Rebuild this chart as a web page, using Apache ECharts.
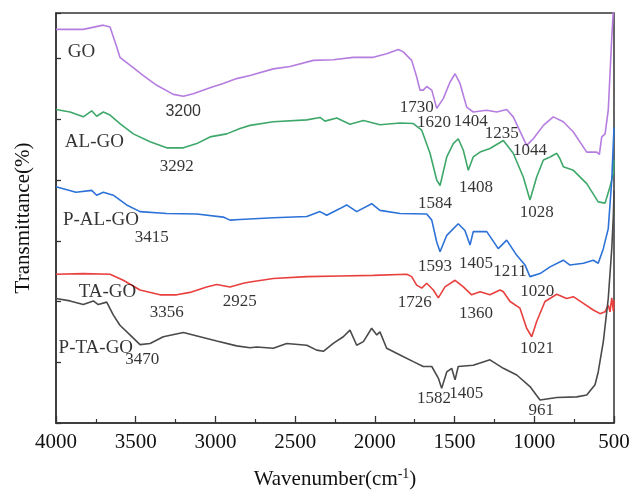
<!DOCTYPE html>
<html>
<head>
<meta charset="utf-8">
<script src="https://cdn.jsdelivr.net/npm/echarts@6/dist/echarts.min.js"></script>
<style>
html,body{margin:0;padding:0;background:#fff;}
#chart{width:633px;height:497px;}
</style>
</head>
<body>
<div id="chart"></div>
<script>
// Wavenumber (cm-1) and transmittance (offset, arbitrary units)
const goX = [4000,3829,3703,3661,3619,3599,3536,3452,3368,3264,3201,3139,3034,2951,2867,2783,2637,2532,2386,2261,2135,2010,1926,1853,1822,1769,1738,1717,1696,1675,1643,1612,1571,1529,1497,1466,1424,1383,1298,1236,1173,1132,1048,1006,943,881,818,755,671,608,592,577,556,536,514,504,500];
const goY = [6.48,6.48,6.55,6.52,6.19,6.02,5.89,5.72,5.56,5.41,5.38,5.42,5.52,5.59,5.67,5.72,5.83,5.87,5.97,5.98,6.02,6.02,6.08,6.15,6.11,5.97,5.70,5.48,5.48,5.54,5.48,5.18,5.34,5.61,5.75,5.59,5.20,5.12,5.15,5.12,5.16,5.04,4.57,4.68,4.90,5.04,4.96,4.79,4.46,4.46,4.42,4.71,4.76,5.15,6.35,6.80,6.90];

const alX = [4000,3912,3829,3776,3745,3703,3661,3599,3515,3410,3306,3201,3117,3034,2929,2846,2783,2637,2427,2344,2313,2239,2156,2072,1968,1842,1759,1706,1654,1612,1591,1549,1508,1477,1445,1414,1383,1340,1278,1194,1132,1069,1027,985,943,901,859,839,818,755,671,599,556,525,504,500];
const alY = [5.16,5.12,5.04,5.14,5.05,5.12,5.07,4.93,4.76,4.63,4.53,4.53,4.60,4.71,4.76,4.85,4.90,4.96,4.99,5.03,4.97,5.02,4.92,4.98,4.91,4.94,4.93,4.82,4.44,4.00,3.91,4.38,4.60,4.68,4.49,4.16,4.38,4.46,4.52,4.65,4.44,4.05,3.67,4.05,4.33,4.38,4.44,4.35,4.22,4.16,3.94,3.64,3.62,3.89,4.11,4.33];

const palX = [4000,3875,3776,3745,3703,3641,3557,3473,3306,3117,2951,2909,2846,2637,2427,2344,2302,2219,2177,2114,2020,1968,1842,1675,1643,1612,1591,1549,1477,1435,1403,1383,1298,1226,1173,1110,1058,1027,964,901,818,776,692,630,599,567,536,514,500];
const palY = [3.89,3.80,3.83,3.75,3.80,3.75,3.59,3.48,3.45,3.44,3.39,3.34,3.35,3.38,3.40,3.48,3.42,3.53,3.59,3.48,3.61,3.50,3.45,3.44,3.34,2.98,2.82,3.09,3.28,3.17,2.93,3.15,3.15,2.87,3.01,2.76,2.60,2.41,2.46,2.57,2.68,2.60,2.63,2.68,2.63,2.87,3.20,4.00,4.87];

const taX = [4000,3829,3661,3578,3473,3348,3243,3160,3055,2992,2909,2825,2783,2637,2427,2219,2010,1800,1769,1738,1706,1675,1633,1602,1560,1497,1445,1393,1340,1278,1215,1194,1152,1090,1048,1016,985,933,859,797,755,692,630,588,556,536,525,514,504,500];
const taY = [2.45,2.46,2.45,2.35,2.19,2.11,2.11,2.15,2.24,2.28,2.24,2.30,2.32,2.38,2.41,2.42,2.43,2.45,2.41,2.27,2.22,2.30,2.19,2.06,2.24,2.35,2.24,2.11,2.16,2.11,2.19,2.16,2.00,1.89,1.56,1.42,1.67,2.00,2.12,2.05,2.08,1.97,1.86,1.80,1.83,1.94,1.83,2.06,1.84,2.02];

const ptaX = [4000,3912,3829,3766,3735,3682,3641,3599,3536,3473,3410,3327,3201,3097,2992,2867,2783,2741,2637,2553,2427,2365,2323,2261,2198,2156,2114,2072,2020,1988,1968,1926,1842,1759,1696,1643,1602,1581,1549,1518,1497,1477,1383,1278,1194,1110,1027,964,859,734,671,619,599,567,536,514,504,500];
const ptaY = [2.05,2.01,1.95,2.01,1.95,1.99,1.78,1.61,1.45,1.29,1.31,1.42,1.49,1.42,1.35,1.27,1.24,1.25,1.23,1.31,1.28,1.20,1.18,1.31,1.42,1.53,1.28,1.34,1.56,1.45,1.50,1.23,1.12,1.01,0.93,0.93,0.74,0.57,0.84,0.90,0.71,0.93,0.95,1.04,0.90,0.79,0.60,0.38,0.42,0.43,0.46,0.63,0.84,1.34,2.05,2.87,3.42,3.83];

const seriesNames = ['GO','AL-GO','P-AL-GO','TA-GO','P-TA-GO'];
const xTicks = [4000,3500,3000,2500,2000,1500,1000,500];

// Annotation texts with their positions in data units [text, wavenumber, value]
const sampleLabels = [['GO',3840,6.10],['AL-GO',3759,4.63],['P-AL-GO',3718,3.34],['TA-GO',3677,2.16],['P-TA-GO',3750,1.23]];
const peakLabels = [['3200',3202,5.12],['3292',3243,4.23],['3415',3400,3.06],['3356',3306,1.82],['2925',2848,2.00],['3470',3459,1.05],
  ['1730',1738,5.19],['1620',1629,4.95],['1404',1399,4.97],['1235',1204,4.77],['1044',1027,4.48],
  ['1408',1366,3.88],['1584',1623,3.62],['1028',985,3.46],
  ['1593',1623,2.57],['1405',1366,2.62],['1211',1152,2.49],['1020',981,2.16],
  ['1726',1750,1.98],['1360',1366,1.80],['1021',983,1.22],
  ['1582',1629,0.41],['1405',1426,0.48],['961',956,0.21]];

const serif = "'Liberation Serif','Times New Roman',serif";
const colors = ['#b67de0','#3ea86a','#2d72d8','#e8403f','#4a4a4a'];
const xs = [goX, alX, palX, taX, ptaX];
const ys = [goY, alY, palY, taY, ptaY];

const lineSeries = seriesNames.map((n, k) => ({
  name: n,
  type: 'line',
  data: xs[k].map((x, i) => [x, ys[k][i]]),
  showSymbol: false,
  symbol: 'none',
  lineStyle: {color: colors[k], width: 1.6},
  clip: true,
  silent: true,
  z: 2
}));

const labelSeries = {
  type: 'scatter',
  symbolSize: 0,
  itemStyle: {color: '#000'},
  silent: true,
  z: 5,
  clip: false,
  data: sampleLabels.map(a => ({
    value: [a[1], a[2]], name: a[0],
    label: {show: true, position: 'inside', formatter: '{b}', fontFamily: serif, fontSize: 19, color: '#000', textBorderWidth: 0}
  })).concat(peakLabels.map(a => ({
    value: [a[1], a[2]], name: a[0],
    label: {show: true, position: 'inside', formatter: '{b}',
      fontFamily: a[0] === '3200' ? "'Liberation Sans',Arial,sans-serif" : serif,
      fontSize: a[0] === '3200' ? 16 : 17, color: '#000', textBorderWidth: 0}
  })))
};

const chart = echarts.init(document.getElementById('chart'), null, {renderer: 'canvas'});
chart.setOption({
  animation: false,
  backgroundColor: '#fff',
  grid: {left: 56, right: 19, top: 13, bottom: 74, show: true, borderColor: '#333', borderWidth: 1.5, backgroundColor: 'transparent'},
  xAxis: {
    type: 'value', inverse: true, min: 500, max: 4000, interval: 500,
    name: 'Wavenumber(cm{sup|-1})', nameLocation: 'middle', nameGap: 44,
    nameTextStyle: {fontFamily: serif, fontSize: 21, color: '#111',
      rich: {sup: {fontFamily: serif, fontSize: 14, verticalAlign: 'top', padding: [0, 0, 10, 0], color: '#111'}}},
    axisLine: {show: true, lineStyle: {color: '#333', width: 1.5}},
    axisTick: {show: true, inside: true, length: 7, lineStyle: {color: '#333', width: 1.3}},
    minorTick: {show: true, splitNumber: 2, length: 4, lineStyle: {color: '#333', width: 1.2}},
    axisLabel: {fontFamily: serif, fontSize: 21, color: '#111', margin: 9,
      formatter: v => xTicks.includes(v) ? String(v) : ''},
    splitLine: {show: false}
  },
  yAxis: {
    type: 'value', min: 0, max: 6.75, interval: 1,
    name: 'Transmittance(%)', nameLocation: 'middle', nameGap: 22,
    nameTextStyle: {fontFamily: serif, fontSize: 21, color: '#111'},
    axisLine: {show: true, lineStyle: {color: '#333', width: 1.5}},
    axisTick: {show: true, inside: true, length: 5, lineStyle: {color: '#333', width: 1.3}},
    axisLabel: {show: false},
    splitLine: {show: false}
  },
  series: lineSeries.concat([labelSeries])
});
</script>
</body>
</html>
